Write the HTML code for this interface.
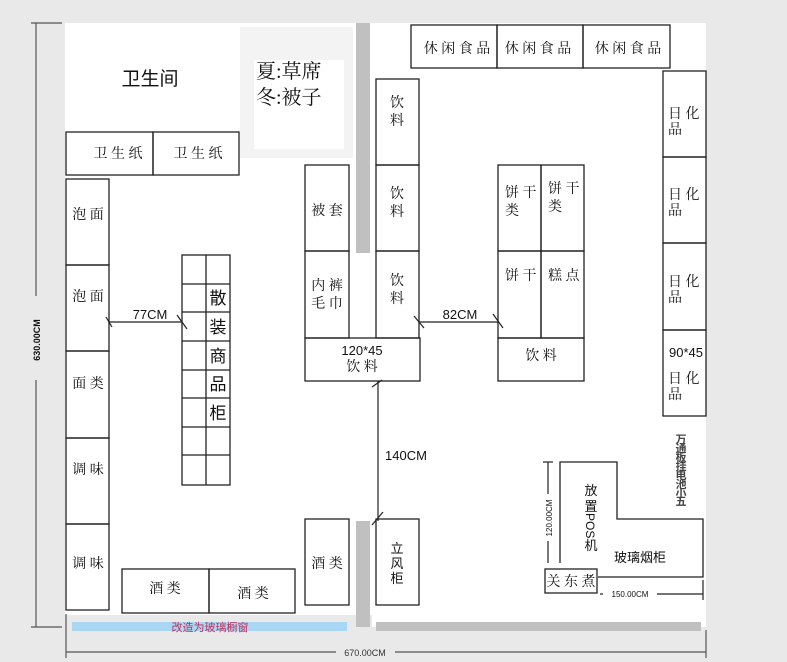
<!DOCTYPE html>
<html><head><meta charset="utf-8"><style>
html,body{margin:0;padding:0;background:#e9e9e9;}
svg{display:block;}
.k{font-family:"Liberation Serif","Noto Serif CJK SC",serif;fill:#111;}
.s{font-family:"Liberation Sans","Noto Sans CJK SC",sans-serif;fill:#111;}
</style></head><body>
<svg width="787" height="662" viewBox="0 0 787 662" xmlns="http://www.w3.org/2000/svg">
<rect x="0" y="0" width="787" height="662" fill="#e9e9e9"/>
<rect x="65" y="23" width="641" height="592" fill="#fff"/>
<rect x="372" y="615" width="334" height="12" fill="#fff"/>
<rect x="240" y="27" width="113" height="131" fill="#f3f3f3"/>
<rect x="254" y="60" width="90" height="89" fill="#fff"/>
<text class="k" x="256" y="78" style="font-size:20px">夏:草席</text>
<text class="k" x="256" y="104" style="font-size:20px">冬:被子</text>
<rect x="356" y="23" width="14" height="230" fill="#c0c0c0"/>
<rect x="356" y="521" width="14" height="106" fill="#c0c0c0"/>
<rect x="376" y="622" width="325" height="9" fill="#c0c0c0"/>
<rect x="72" y="622" width="275" height="9" fill="#a9d6f2"/>
<text x="210" y="631" text-anchor="middle" font-family="Liberation Sans,Noto Sans CJK SC,sans-serif" font-size="11" fill="#c0305a">改造为玻璃橱窗</text>
<text class="s" x="150" y="85" text-anchor="middle" style="font-size:19px">卫生间</text>
<g fill="none" stroke="#222" stroke-width="1.3">
<rect x="66" y="132" width="87" height="43"/><rect x="153" y="132" width="86" height="43"/>
<rect x="66" y="179" width="43" height="86"/><rect x="66" y="265" width="43" height="86"/>
<rect x="66" y="351" width="43" height="87"/><rect x="66" y="438" width="43" height="86"/>
<rect x="66" y="524" width="43" height="86"/>
<rect x="182" y="255" width="48" height="230"/><line x1="206" y1="255" x2="206" y2="485"/>
<line x1="182" y1="284" x2="230" y2="284"/><line x1="182" y1="312" x2="230" y2="312"/>
<line x1="182" y1="341" x2="230" y2="341"/><line x1="182" y1="370" x2="230" y2="370"/>
<line x1="182" y1="398" x2="230" y2="398"/><line x1="182" y1="427" x2="230" y2="427"/>
<line x1="182" y1="455" x2="230" y2="455"/>
<rect x="305" y="165" width="44" height="86"/><rect x="305" y="251" width="44" height="87"/>
<rect x="376" y="79" width="43" height="86"/><rect x="376" y="165" width="43" height="86"/>
<rect x="376" y="251" width="43" height="87"/>
<rect x="305" y="338" width="115" height="43"/>
<rect x="305" y="519" width="44" height="86"/><rect x="376" y="519" width="43" height="86"/>
<rect x="122" y="569" width="87" height="44"/><rect x="209" y="569" width="86" height="44"/>
<rect x="411" y="25" width="86" height="43"/><rect x="497" y="25" width="86" height="43"/><rect x="583" y="25" width="87" height="43"/>
<rect x="498" y="165" width="43" height="86"/><rect x="541" y="165" width="43" height="86"/>
<rect x="498" y="251" width="43" height="87"/><rect x="541" y="251" width="43" height="87"/>
<rect x="498" y="338" width="86" height="43"/>
<rect x="663" y="71" width="43" height="86"/><rect x="663" y="157" width="43" height="86"/>
<rect x="663" y="243" width="43" height="87"/><rect x="663" y="330" width="43" height="86"/>
<polyline points="560,563 560,462 617,462 617,519 703,519 703,577 598,577"/>
<rect x="545" y="569" width="52" height="24" fill="#fff"/>
</g>
<g stroke="#222" stroke-width="1.2" fill="none">
<line x1="109" y1="322" x2="182" y2="322"/><line x1="106" y1="317" x2="112" y2="327"/><line x1="177" y1="315" x2="187" y2="329"/>
<line x1="419" y1="322" x2="498" y2="322"/><line x1="414" y1="316" x2="424" y2="328"/><line x1="493" y1="314" x2="503" y2="328"/>
<line x1="378" y1="381" x2="378" y2="521"/><line x1="372" y1="387" x2="382" y2="380"/><line x1="372" y1="525" x2="383" y2="512"/>
<line x1="548" y1="462" x2="548" y2="494"/><line x1="548" y1="541" x2="548" y2="563"/><line x1="543" y1="462" x2="553" y2="462"/>
<line x1="657" y1="594" x2="703" y2="594"/><line x1="600" y1="594" x2="603" y2="594"/><line x1="703" y1="580" x2="703" y2="600"/>
</g>
<g stroke="#555" stroke-width="1.2">
<line x1="36" y1="23" x2="36" y2="296"/><line x1="36" y1="380" x2="36" y2="627"/>
<line x1="31" y1="23" x2="62" y2="23"/><line x1="31" y1="627" x2="62" y2="627"/>
<line x1="66" y1="652" x2="336" y2="652"/><line x1="395" y1="652" x2="706" y2="652"/>
<line x1="66" y1="614" x2="66" y2="658"/><line x1="706" y1="630" x2="706" y2="658"/>
</g>
<text class="s" x="365" y="656" text-anchor="middle" style="font-size:9px;fill:#333">670.00CM</text>
<text class="s" transform="translate(40,340) rotate(-90)" text-anchor="middle" style="font-size:9px;font-weight:bold">630.00CM</text>
<text class="s" transform="translate(552,518) rotate(-90)" text-anchor="middle" style="font-size:8px">120.00CM</text>
<text class="s" x="630" y="597" text-anchor="middle" style="font-size:8px">150.00CM</text>
<g class="s" style="font-size:13px">
<text x="150" y="319" text-anchor="middle">77CM</text>
<text x="460" y="319" text-anchor="middle">82CM</text>
<text x="385" y="460">140CM</text>
<text x="362" y="355" text-anchor="middle">120*45</text>
<text x="686" y="357" text-anchor="middle">90*45</text>
</g>
<g class="k" style="font-size:14px">
<text x="118" y="158" text-anchor="middle">卫 生 纸</text>
<text x="198" y="158" text-anchor="middle">卫 生 纸</text>
<text x="88" y="219" text-anchor="middle">泡 面</text>
<text x="88" y="301" text-anchor="middle">泡 面</text>
<text x="88" y="388" text-anchor="middle">面 类</text>
<text x="88" y="474" text-anchor="middle">调 味</text>
<text x="88" y="568" text-anchor="middle">调 味</text>
<text x="327" y="215" text-anchor="middle">被 套</text>
<text x="327" y="290" text-anchor="middle">内 裤</text>
<text x="327" y="308" text-anchor="middle">毛 巾</text>
<text x="390" y="107">饮</text><text x="390" y="125">料</text>
<text x="390" y="198">饮</text><text x="390" y="216">料</text>
<text x="390" y="285">饮</text><text x="390" y="303">料</text>
<text x="362" y="371" text-anchor="middle">饮 料</text>
<text x="327" y="568" text-anchor="middle">酒 类</text>
<text x="165" y="593" text-anchor="middle">酒 类</text>
<text x="253" y="598" text-anchor="middle">酒 类</text>
<text x="457" y="53" text-anchor="middle">休 闲 食 品</text>
<text x="538" y="53" text-anchor="middle">休 闲 食 品</text>
<text x="628" y="53" text-anchor="middle">休 闲 食 品</text>
<text x="505" y="197">饼 干</text><text x="505" y="215">类</text>
<text x="548" y="193">饼 干</text><text x="548" y="211">类</text>
<text x="505" y="280">饼 干</text>
<text x="548" y="280">糕 点</text>
<text x="541" y="360" text-anchor="middle">饮 料</text>
<text x="668" y="118">日 化</text><text x="668" y="134">品</text>
<text x="668" y="199">日 化</text><text x="668" y="215">品</text>
<text x="668" y="286">日 化</text><text x="668" y="302">品</text>
<text x="668" y="383">日 化</text><text x="668" y="399">品</text>
<text x="571" y="586" text-anchor="middle">关 东 煮</text>
</g>
<g class="s" style="font-size:17px" text-anchor="middle"><text x="218" y="304">散</text><text x="218" y="333">装</text><text x="218" y="362">商</text><text x="218" y="390">品</text><text x="218" y="419">柜</text></g>
<g class="s" style="font-size:13px" text-anchor="middle"><text x="397" y="553">立</text><text x="397" y="568">风</text><text x="397" y="583">柜</text></g>
<g class="s" style="font-size:11px;font-weight:bold;fill:#444" text-anchor="middle"><text x="681" y="443">万</text><text x="681" y="452">通</text><text x="681" y="461">板</text><text x="681" y="470">挂</text><text x="681" y="479">电</text><text x="681" y="488">池</text><text x="681" y="497">小</text><text x="681" y="505">五</text></g>
<g class="s" style="font-size:13px" text-anchor="middle"><text x="591" y="495">放</text><text x="591" y="511">置</text></g>
<text class="s" transform="translate(586,513) rotate(90)" style="font-size:12px">POS</text>
<text class="s" x="591" y="550" text-anchor="middle" style="font-size:13px">机</text>
<text class="s" x="640" y="562" text-anchor="middle" style="font-size:13px">玻璃烟柜</text>
</svg>
</body></html>
